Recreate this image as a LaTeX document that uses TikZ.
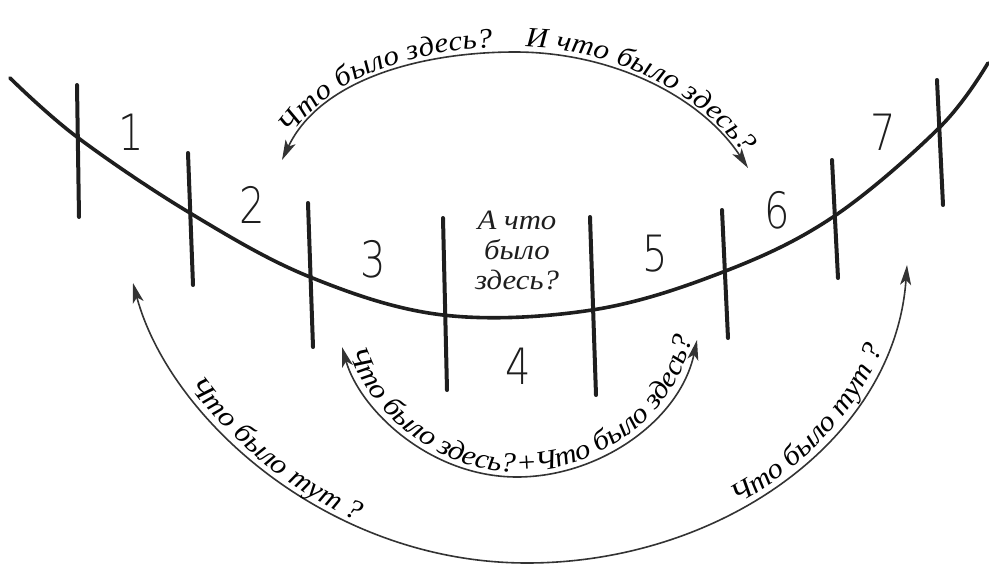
\documentclass[tikz,border=0pt]{standalone}
\usepackage{fontspec}
\usetikzlibrary{arrows.meta,decorations.text}
\newfontfamily\lblfont{Liberation Serif}[FakeStretch=1.1]
\IfFontExistsTF{DejaVu Sans ExtraLight}%
  {\newfontfamily\digitfont{DejaVu Sans ExtraLight}[FakeStretch=0.8]}%
  {\newfontfamily\digitfont{DejaVu Sans}[FakeStretch=0.8]}
\newcommand\txtfmt{\lblfont\itshape\fontsize{28}{30}\selectfont}
\definecolor{ink}{HTML}{1E1E1E}
\definecolor{pen}{HTML}{333333}
\begin{document}
\begin{tikzpicture}[x=1pt,y=-1pt,
  mainline/.style={draw=ink, line width=3.6pt, line cap=round},
  tickbar/.style={draw=ink, line width=4pt, line cap=round},
  qarc/.style={draw=pen, line width=1.6pt,
    {Stealth[length=20pt,width=11pt,inset=5pt]}-{Stealth[length=20pt,width=11pt,inset=5pt]}},
  numlbl/.style={font=\digitfont\fontsize{50}{50}\selectfont, text=ink, inner sep=0pt},
  midlbl/.style={font=\txtfmt, text=ink, align=center, inner sep=0pt},
  txtL/.style 2 args={color=ink, decorate, decoration={text along path, raise=5pt,
     text align={left, left indent=#2}, text={|\txtfmt|#1}}},
  txtR/.style 2 args={color=ink, decorate, decoration={text along path, raise=5pt,
     text align={right, right indent=#2}, text={|\txtfmt|#1}}},
]
\useasboundingbox (0,0) rectangle (989,565);

% main curve
\draw[mainline] plot[smooth, tension=0.6] coordinates {(10,78) (77,137) (190,213) (310,277) (443,315) (592,310) (723,272) (833,217) (940,127) (988,63)};

% bars
\coordinate (b1t) at (77,85);   \coordinate (b1b) at (79,217);
\coordinate (b2t) at (188,153); \coordinate (b2b) at (193,285);
\coordinate (b3t) at (308,203); \coordinate (b3b) at (313,347);
\coordinate (b4t) at (443,218); \coordinate (b4b) at (447,390);
\coordinate (b5t) at (590,217); \coordinate (b5b) at (596,395);
\coordinate (b6t) at (722,210); \coordinate (b6b) at (728,338);
\coordinate (b7t) at (832,160); \coordinate (b7b) at (838,278);
\coordinate (b8t) at (937,80);  \coordinate (b8b) at (943,205);
\foreach \i in {1,...,8} \draw[tickbar] (b\i t) -- (b\i b);

% numbers
\node[numlbl] (n1) at (131,132) {1};
\node[numlbl] (n2) at (252,205) {2};
\node[numlbl] (n3) at (373,259) {3};
\node[numlbl] (n4) at (518,366) {4};
\node[numlbl] (n5) at (655,254) {5};
\node[numlbl] (n6) at (777,210) {6};
\node[numlbl] (n7) at (883,132) {7};

% centre question
\node[midlbl] (q) at (517,250) {А что\\было\\здесь?};

% arc end points
\coordinate (tL) at (282,160); \coordinate (tM) at (515,52);  \coordinate (tR) at (748,168);
\coordinate (iL) at (342,347); \coordinate (iM) at (517,477); \coordinate (iR) at (697,340);
\coordinate (oL) at (133,283); \coordinate (oM) at (527,563); \coordinate (oR) at (907,265);

% top arc
\draw[qarc] (tL) .. controls (320,80) and (420,52) .. (tM) .. controls (610,52) and (700,95) .. (tR);
\path[txtR={Что было здесь?}{22pt}] (tL) .. controls (320,80) and (420,52) .. (tM);
\path[txtL={И что было здесь?}{10pt}] (tM) .. controls (610,52) and (700,95) .. (tR);

% inner lower arc
\draw[qarc] (iL) .. controls (360,410) and (430,477) .. (iM) .. controls (600,477) and (680,420) .. (iR);
\path[txtR={Что было здесь?}{2pt}] (iL) .. controls (360,410) and (430,477) .. (iM);
\path[txtL={+Что было здесь?}{0pt}] (iM) .. controls (600,477) and (680,420) .. (iR);

% outer lower arc
\draw[qarc] (oL) .. controls (170,420) and (330,563) .. (oM) .. controls (720,563) and (895,440) .. (oR);
\path[txtL={Что было тут ?}{118pt}] (oL) .. controls (170,420) and (330,563) .. (oM);
\path[txtR={Что было тут ?}{88pt}] (oM) .. controls (720,563) and (895,440) .. (oR);
\end{tikzpicture}
\end{document}
